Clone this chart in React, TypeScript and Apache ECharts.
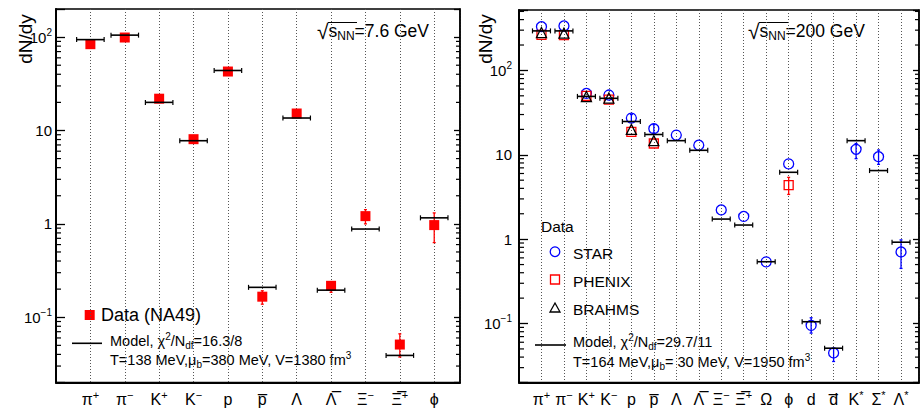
import React, { useEffect, useRef } from 'react';
import * as echarts from 'echarts';

const FONT = '"Liberation Sans", Arial, Helvetica, sans-serif';

// ---------------- Left panel: sqrt(sNN) = 7.6 GeV ----------------
const cats76 = ['π+', 'π−', 'K+', 'K−', 'p', 'p\u0305', 'Λ', 'Λ\u0305', 'Ξ−', 'Ξ\u0305+', 'ϕ'];
const na49 = [84, 99, 21.9, 8.07, 42.8, 0.166, 15.2, 0.217, 1.21, 0.051, 0.97];
const na49Lo = [null, null, null, null, null, 0.138, null, 0.185, 1.0, 0.0375, 0.63];
const na49Hi = [null, null, null, null, null, 0.192, null, 0.235, 1.42, 0.0664, 1.31];
const model76 = [94, 105, 20.0, 7.77, 43.9, 0.209, 13.6, 0.195, 0.88, 0.039, 1.16];

// ---------------- Right panel: sqrt(sNN) = 200 GeV ----------------
const cats200 = ['π+', 'π−', 'K+', 'K−', 'p', 'p\u0305', 'Λ', 'Λ\u0305', 'Ξ−', 'Ξ\u0305+', 'Ω', 'ϕ', 'd', 'd\u0305', 'K*', 'Σ*', 'Λ*'];
const star = [330, 336, 53.4, 51, 27.2, 20.4, 17.1, 13.0, 2.22, 1.86, 0.538, 7.8, 0.095, 0.0448, 11.6, 9.5, 0.705];
const starLo = [null, null, null, null, 24.5, 18.2, null, null, null, null, null, null, 0.077, 0.0355, 9.0, 7.7, 0.45];
const starHi = [null, null, null, null, 30.0, 22.8, null, null, null, null, null, null, 0.117, 0.0507, 13.6, 11.4, 0.98];
const phenix = [264, 262, 50, 45, 18.7, 13.6, null, null, null, null, null, 4.36, null, null, null, null, null];
const phenixLo = [null, null, null, null, null, null, null, null, null, null, null, 3.39, null, null, null, null, null];
const phenixHi = [null, null, null, null, null, null, null, null, null, null, null, 5.4, null, null, null, null, null];
const brahms = [281, 276, 49, 47, 20, 14.7, null, null, null, null, null, null, null, null, null, null, null];
const model200 = [294, 294, 49.2, 46.7, 24.8, 17.4, 14.7, 11.3, 1.73, 1.47, 0.54, 6.2, 0.105, 0.051, 14.7, 6.5, 0.92];

const X1_MAX = 11.75;
const X2_MAX = 17.8;
const Y1 = [0.02, 200];
const Y2 = [0.02, 520];
const HALF = 0.4;

function catRich(name: string) {
  const last = name.slice(-1);
  if (last === '+' || last === '−' || last === '*') {
    return `{b|${name.slice(0, -1)}}{s|${last}}`;
  }
  return `{b|${name}}`;
}

function xFormatter(cats: string[]) {
  return (v: number) => {
    const i = Math.round(v);
    if (Math.abs(v - i) > 1e-6 || i < 1 || i > cats.length) return '';
    return catRich(cats[i - 1]);
  };
}

function yFormatter(v: number) {
  const l = Math.log10(v);
  const e = Math.round(l);
  if (Math.abs(l - e) > 1e-6) return '';
  if (e === 0) return '{b|1}';
  if (e === 1) return '{b|10}';
  return `{b|10}{s|${e < 0 ? '−' + -e : e}}`;
}

function minorValues(range: number[]) {
  const out: number[] = [];
  for (let e = -3; e <= 3; e++) {
    for (let m = 2; m <= 9; m++) {
      const v = m * Math.pow(10, e);
      if (v > range[0] * 1.0001 && v < range[1] * 0.9999) out.push(v);
    }
  }
  return out;
}

function xAxisOpt(grid: number, max: number, cats: string[]) {
  return {
    gridIndex: grid,
    type: 'value',
    min: 0,
    max,
    interval: 1,
    axisLine: { show: true, onZero: false, lineStyle: { color: '#000', width: 2 } },
    axisTick: { show: false },
    splitLine: { show: true, lineStyle: { color: '#555', width: 1, type: [1, 2] } },
    axisLabel: {
      formatter: xFormatter(cats),
      margin: 6,
      color: '#000',
      rich: {
        b: { fontSize: 16, fontFamily: FONT, color: '#000', lineHeight: 22 },
        s: { fontSize: 11, fontFamily: FONT, color: '#000', lineHeight: 12, padding: [0, 0, 10, 0] },
      },
    },
  };
}

function yAxisOpt(grid: number, range: number[], side: 'left' | 'right', margin: number) {
  const left = side === 'left';
  return {
    gridIndex: grid,
    type: 'log',
    logBase: 10,
    min: range[0],
    max: range[1],
    position: side,
    axisLine: { show: true, onZero: false, lineStyle: { color: '#000', width: left ? 2 : 1.5 } },
    axisTick: { show: true, inside: true, length: left ? 9 : 6, lineStyle: { color: '#000', width: 1.3 } },
    splitLine: { show: false },
    axisLabel: left
      ? {
          show: true,
          formatter: yFormatter,
          margin,
          color: '#000',
          rich: {
            b: { fontSize: 15, fontFamily: FONT, color: '#000', lineHeight: 20 },
            s: { fontSize: 10, fontFamily: FONT, color: '#000', lineHeight: 10, padding: [0, 0, 10, 0] },
          },
        }
      : { show: false },
  };
}

function minorTickSeries(xi: number, yi: number, range: number[], xmax: number) {
  return {
    type: 'custom',
    xAxisIndex: xi,
    yAxisIndex: yi,
    silent: true,
    data: minorValues(range).map((v) => [0, v]),
    encode: { x: 0, y: 1 },
    renderItem: (_p: any, api: any) => {
      const v = api.value(1);
      const a = api.coord([0, v]);
      const b = api.coord([xmax, v]);
      const st = { stroke: '#000', lineWidth: 1.2 };
      return {
        type: 'group',
        children: [
          { type: 'line', shape: { x1: a[0], y1: a[1], x2: a[0] + 5, y2: a[1] }, style: st },
          { type: 'line', shape: { x1: b[0] - 4, y1: b[1], x2: b[0], y2: b[1] }, style: st },
        ],
      };
    },
    z: 5,
  };
}

function errorSeries(xi: number, yi: number, lo: (number | null)[], hi: (number | null)[], color: string) {
  const data: number[][] = [];
  lo.forEach((l, i) => {
    const h = hi[i];
    if (l != null && h != null) data.push([i + 1, l, h]);
  });
  return {
    type: 'custom',
    xAxisIndex: xi,
    yAxisIndex: yi,
    silent: true,
    data,
    encode: { x: 0, y: [1, 2] },
    renderItem: (_p: any, api: any) => {
      const x = api.value(0);
      const a = api.coord([x, api.value(1)]);
      const b = api.coord([x, api.value(2)]);
      const st = { stroke: color, lineWidth: 1.3 };
      return {
        type: 'group',
        children: [
          { type: 'line', shape: { x1: a[0], y1: a[1], x2: b[0], y2: b[1] }, style: st },
          { type: 'line', shape: { x1: a[0] - 1.5, y1: a[1], x2: a[0] + 1.5, y2: a[1] }, style: st },
          { type: 'line', shape: { x1: b[0] - 1.5, y1: b[1], x2: b[0] + 1.5, y2: b[1] }, style: st },
        ],
      };
    },
    z: 3,
  };
}

function modelSeries(xi: number, yi: number, vals: number[]) {
  return {
    type: 'custom',
    xAxisIndex: xi,
    yAxisIndex: yi,
    silent: true,
    data: vals.map((v, i) => [i + 1, v]),
    encode: { x: 0, y: 1 },
    renderItem: (_p: any, api: any) => {
      const x = api.value(0);
      const y = api.value(1);
      const a = api.coord([x - HALF, y]);
      const b = api.coord([x + HALF, y]);
      const st = { stroke: '#000', lineWidth: 1.6 };
      return {
        type: 'group',
        children: [
          { type: 'line', shape: { x1: a[0], y1: a[1], x2: b[0], y2: b[1] }, style: st },
          { type: 'line', shape: { x1: a[0], y1: a[1] - 2.5, x2: a[0], y2: a[1] + 2.5 }, style: { stroke: '#000', lineWidth: 1.2 } },
          { type: 'line', shape: { x1: b[0], y1: b[1] - 2.5, x2: b[0], y2: b[1] + 2.5 }, style: { stroke: '#000', lineWidth: 1.2 } },
        ],
      };
    },
    z: 6,
  };
}

function pts(vals: (number | null)[]) {
  const out: number[][] = [];
  vals.forEach((v, i) => {
    if (v != null) out.push([i + 1, v]);
  });
  return out;
}

const txt = (x: number, y: number, text: string, size: number, extra: any = {}) => ({
  type: 'text',
  x,
  y,
  silent: true,
  style: {
    text,
    font: `${size}px ${FONT}`,
    fontSize: size,
    fontFamily: FONT,
    fill: '#000',
    verticalAlign: 'middle',
    ...extra,
  },
});

const yTitle = (x: number, y: number) => ({
  type: 'group',
  x,
  y,
  rotation: Math.PI / 2,
  silent: true,
  children: [
    {
      type: 'text',
      x: 0,
      y: 0,
      style: {
        text: 'dN/dy',
        font: `19px ${FONT}`,
        fill: '#000',
        align: 'center',
        verticalAlign: 'middle',
      },
    },
  ],
});

const legRich = {
  t: { fontSize: 14.5, fontFamily: FONT, fill: '#000', lineHeight: 18 },
  sup: { fontSize: 10, fontFamily: FONT, fill: '#000', lineHeight: 10, padding: [0, 0, 9, 0] },
  sub: { fontSize: 10, fontFamily: FONT, fill: '#000', lineHeight: 10, padding: [9, 0, 0, 0] },
};

const titleRich = {
  r: { fontSize: 21, fontFamily: FONT, fill: '#000', lineHeight: 26 },
  t: { fontSize: 17.5, fontFamily: FONT, fill: '#000', lineHeight: 26 },
  n: { fontSize: 12, fontFamily: FONT, fill: '#000', lineHeight: 14, padding: [10, 0, 0, 0] },
};

export default function App() {
  const ref = useRef<HTMLDivElement>(null);
  useEffect(() => {
    if (!ref.current) return;
    const chart = echarts.init(ref.current, undefined, { renderer: 'svg' });
    const option: any = {
      animation: false,
      backgroundColor: '#fff',
      grid: [
        { left: 56, top: 9, width: 404, height: 376, show: true, borderColor: '#000', borderWidth: 1.5, backgroundColor: 'transparent' },
        { left: 519, top: 10, width: 404, height: 377, show: true, borderColor: '#000', borderWidth: 1.5, backgroundColor: 'transparent' },
      ],
      xAxis: [xAxisOpt(0, X1_MAX, cats76), xAxisOpt(1, X2_MAX, cats200)],
      yAxis: [
        yAxisOpt(0, Y1, 'left', 4),
        yAxisOpt(0, Y1, 'right', 0),
        yAxisOpt(1, Y2, 'left', 7),
        yAxisOpt(1, Y2, 'right', 0),
      ],
      series: [
        minorTickSeries(0, 0, Y1, X1_MAX),
        minorTickSeries(1, 2, Y2, X2_MAX),
        errorSeries(0, 0, na49Lo, na49Hi, '#ff0000'),
        {
          type: 'scatter', xAxisIndex: 0, yAxisIndex: 0, silent: true,
          symbol: 'rect', symbolSize: 10, data: pts(na49),
          itemStyle: { color: '#ff0000', opacity: 1 }, z: 4,
        },
        modelSeries(0, 0, model76),
        errorSeries(1, 2, starLo, starHi, '#0000ff'),
        errorSeries(1, 2, phenixLo, phenixHi, '#ff0000'),
        {
          type: 'scatter', xAxisIndex: 1, yAxisIndex: 2, silent: true,
          symbol: 'circle', symbolSize: 10, data: pts(star),
          itemStyle: { color: 'rgba(0,0,0,0)', borderColor: '#0000ff', borderWidth: 1.3, opacity: 1 }, z: 4,
        },
        {
          type: 'scatter', xAxisIndex: 1, yAxisIndex: 2, silent: true,
          symbol: 'rect', symbolSize: 9, data: pts(phenix),
          itemStyle: { color: 'rgba(0,0,0,0)', borderColor: '#ff0000', borderWidth: 1.3, opacity: 1 }, z: 4,
        },
        {
          type: 'scatter', xAxisIndex: 1, yAxisIndex: 2, silent: true,
          symbol: 'triangle', symbolSize: 10, data: pts(brahms),
          itemStyle: { color: 'rgba(0,0,0,0)', borderColor: '#000', borderWidth: 1.3, opacity: 1 }, z: 4,
        },
        modelSeries(1, 2, model200),
      ],
      graphic: [
        // axis titles (rotated)
        yTitle(25, 39),
        yTitle(485, 39),
        // energy labels
        {
          type: 'text', x: 317, y: 31, silent: true,
          style: { text: '{r|√}{t|s}{n|NN}{t|=7.6 GeV}', rich: titleRich, verticalAlign: 'middle', fontFamily: FONT },
        },
        { type: 'line', silent: true, shape: { x1: 328, y1: 22.5, x2: 357, y2: 22.5 }, style: { stroke: '#000', lineWidth: 1 } },
        {
          type: 'text', x: 748, y: 31, silent: true,
          style: { text: '{r|√}{t|s}{n|NN}{t|=200 GeV}', rich: titleRich, verticalAlign: 'middle', fontFamily: FONT },
        },
        { type: 'line', silent: true, shape: { x1: 759, y1: 22.5, x2: 788, y2: 22.5 }, style: { stroke: '#000', lineWidth: 1 } },
        // left legend
        { type: 'rect', silent: true, shape: { x: 84.7, y: 310, width: 10, height: 10 }, style: { fill: '#ff0000' } },
        txt(101, 315, 'Data (NA49)', 18),
        { type: 'line', silent: true, shape: { x1: 72, y1: 343.3, x2: 102, y2: 343.3 }, style: { stroke: '#000', lineWidth: 1.6 } },
        {
          type: 'text', x: 110, y: 341, silent: true,
          style: { text: '{t|Model, χ}{sup|2}{t|/N}{sub|df}{t|=16.3/8}', rich: legRich, verticalAlign: 'middle' },
        },
        {
          type: 'text', x: 110, y: 360, silent: true,
          style: { text: '{t|T=138 MeV,μ}{sub|b}{t|=380 MeV, V=1380 fm}{sup|3}', rich: legRich, verticalAlign: 'middle' },
        },
        // right legend
        txt(541, 226, 'Data', 15.5),
        { type: 'circle', silent: true, shape: { cx: 555, cy: 251.7, r: 4.8 }, style: { fill: 'none', stroke: '#0000ff', lineWidth: 1.3 } },
        txt(573, 253, 'STAR', 15.5),
        { type: 'rect', silent: true, shape: { x: 550.5, y: 275, width: 9, height: 9 }, style: { fill: 'none', stroke: '#ff0000', lineWidth: 1.3 } },
        txt(573, 281, 'PHENIX', 15.5),
        { type: 'polygon', silent: true, shape: { points: [[550, 312], [560, 312], [555, 303]] }, style: { fill: 'none', stroke: '#000', lineWidth: 1.3 } },
        txt(573, 309, 'BRAHMS', 15.5),
        { type: 'line', silent: true, shape: { x1: 535, y1: 345, x2: 566, y2: 345 }, style: { stroke: '#000', lineWidth: 1.6 } },
        {
          type: 'text', x: 573, y: 342, silent: true,
          style: { text: '{t|Model, χ}{sup|2}{t|/N}{sub|df}{t|=29.7/11}', rich: legRich, verticalAlign: 'middle' },
        },
        {
          type: 'text', x: 573, y: 362, silent: true,
          style: { text: '{t|T=164 MeV,μ}{sub|b}{t|= 30 MeV, V=1950 fm}{sup|3}', rich: legRich, verticalAlign: 'middle' },
        },
      ],
    };
    chart.setOption(option);
    return () => chart.dispose();
  }, []);
  return (
    <div
      ref={ref}
      style={{ position: 'fixed', left: 0, top: 0, width: 922, height: 410, background: '#fff' }}
    />
  );
}
